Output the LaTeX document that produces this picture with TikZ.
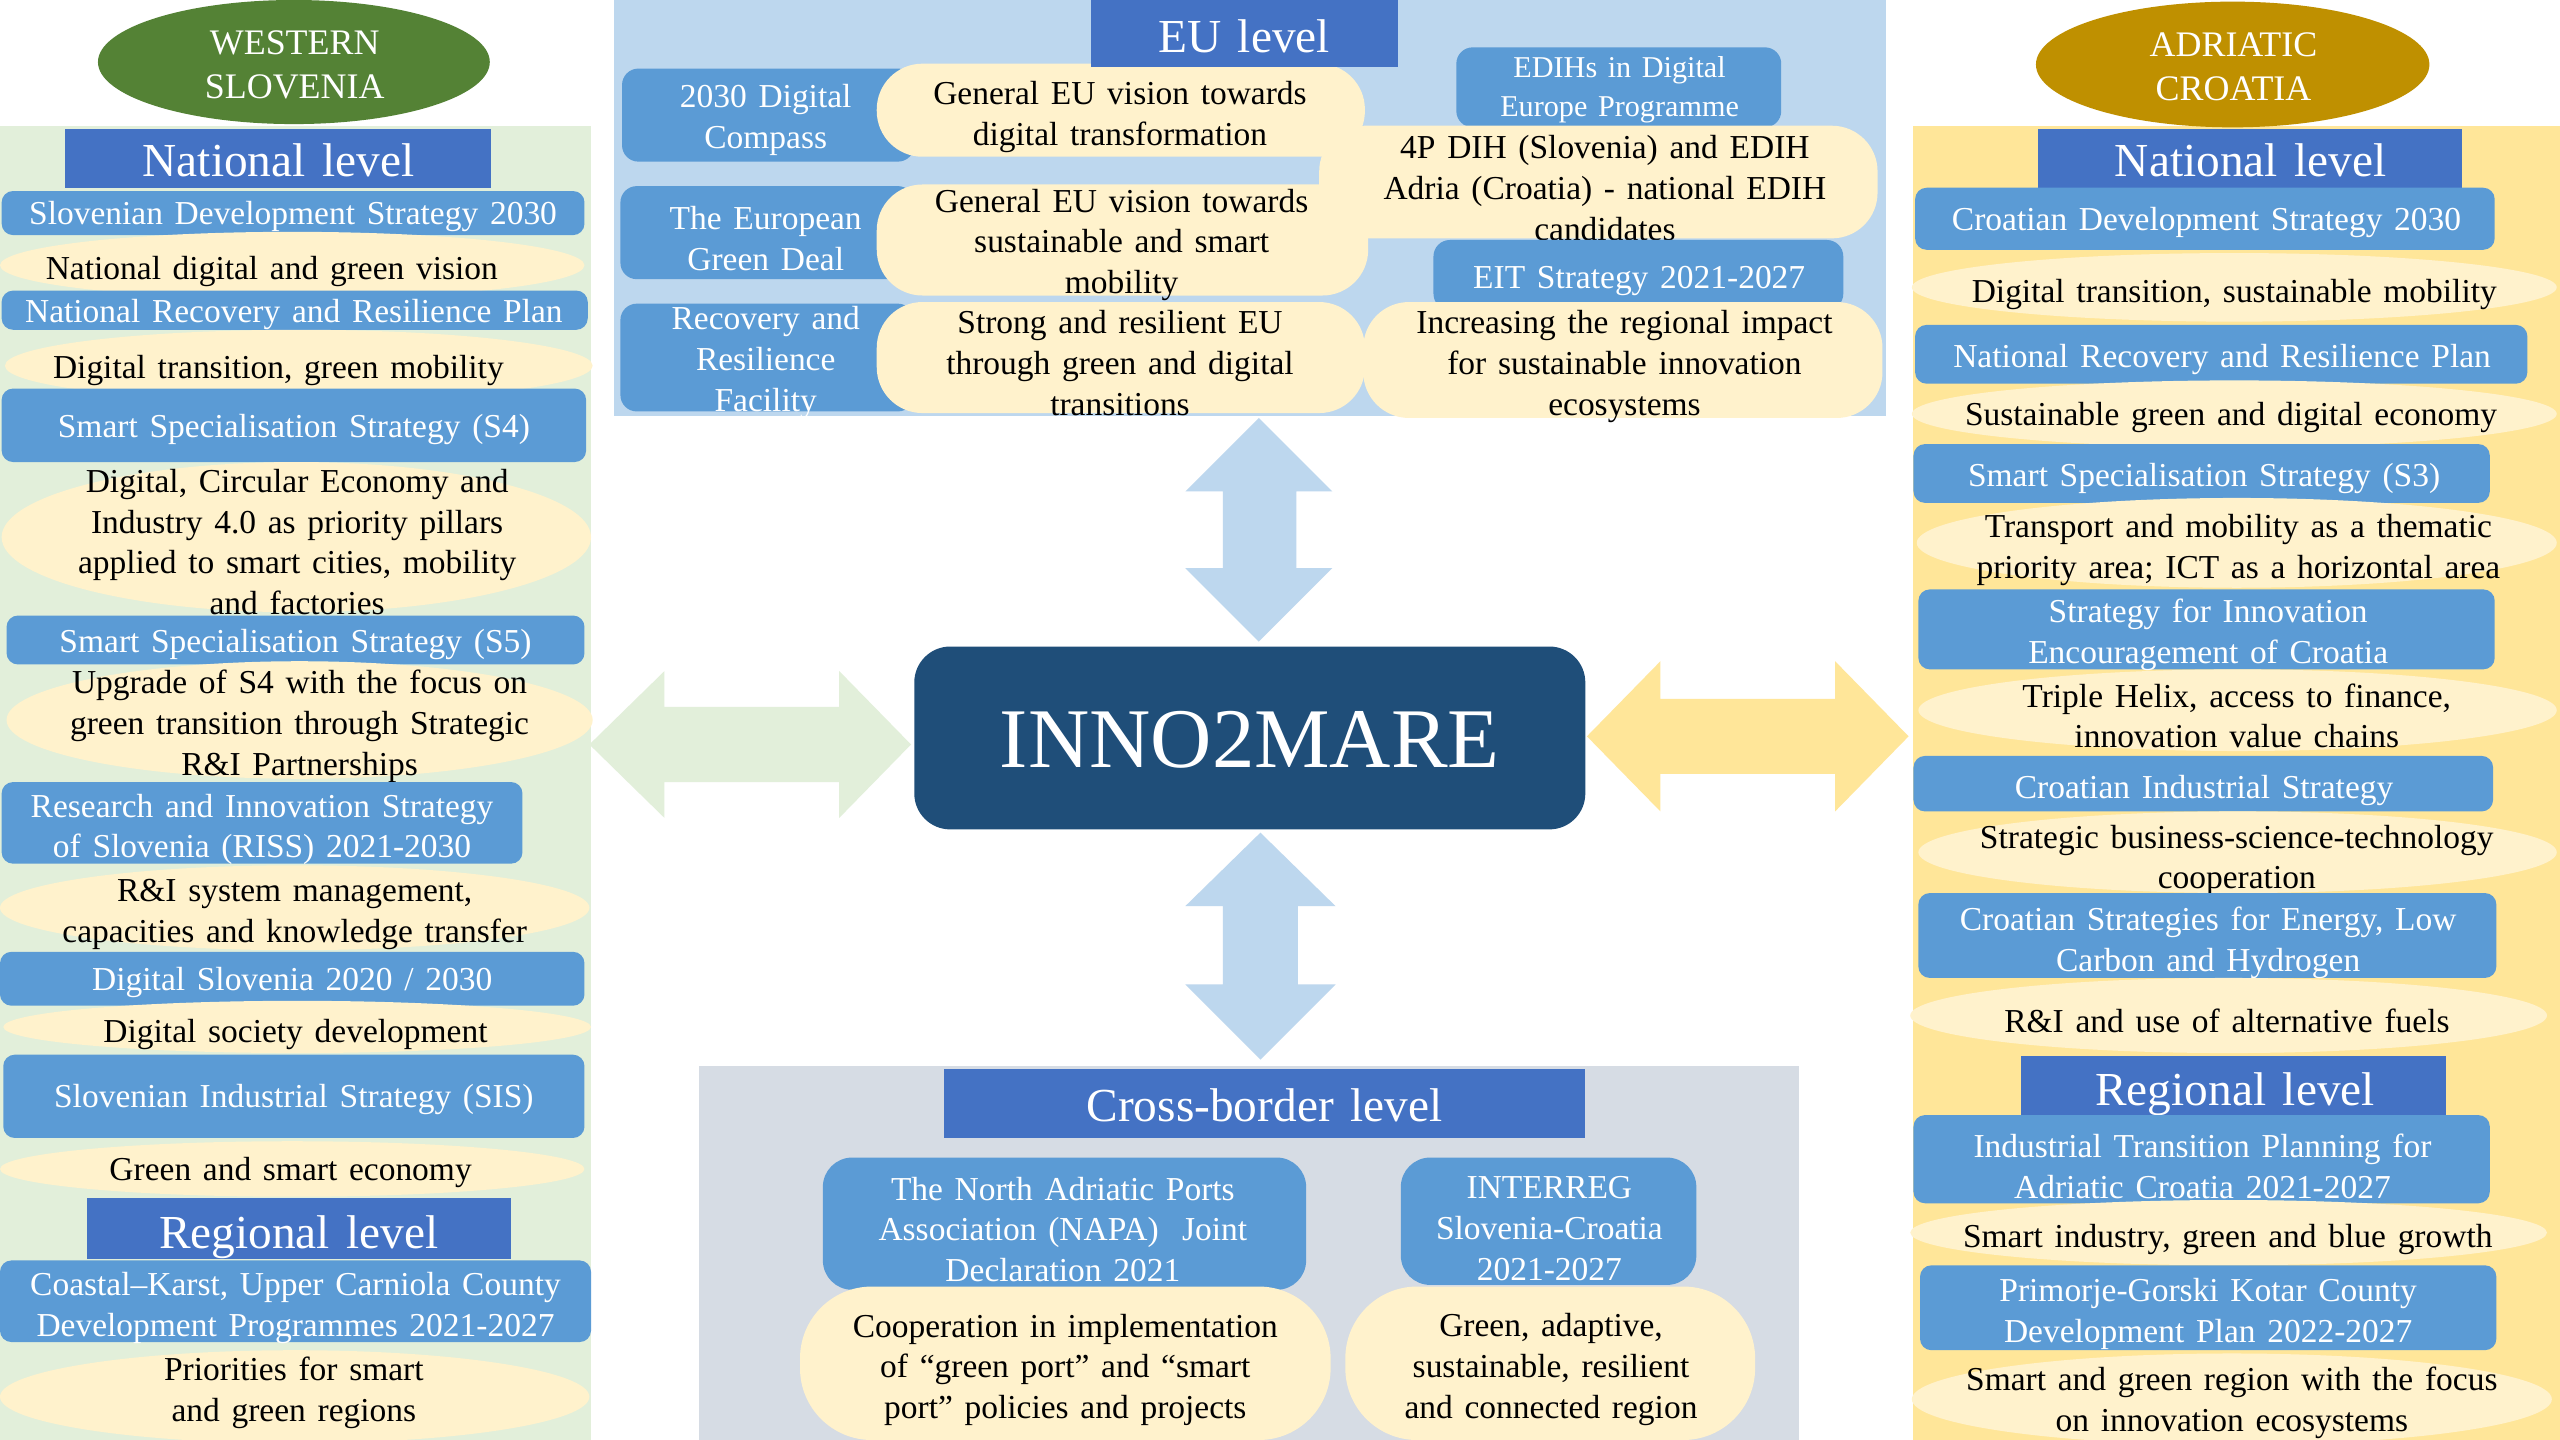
\documentclass[tikz,border=0pt]{standalone}
\usepackage{fontspec}
\setmainfont{Liberation Serif}[WordSpace=1.4]
\usetikzlibrary{shapes.geometric}
\definecolor{pgreen}{HTML}{E2EFDA}
\definecolor{pyellow}{HTML}{FFE699}
\definecolor{peu}{HTML}{BDD7EE}
\definecolor{pcb}{HTML}{D6DCE4}
\definecolor{hdrblue}{HTML}{4472C4}
\definecolor{boxblue}{HTML}{5B9BD5}
\definecolor{cream}{HTML}{FFF2CC}
\definecolor{wsgreen}{HTML}{548235}
\definecolor{acgold}{HTML}{BF9000}
\definecolor{innoblue}{HTML}{1F4E79}
\newcommand\mkshape[9]{%
  \node[#1, minimum width={(#5)-(#3)}, minimum height={(#6)-(#4)}] (#2) at ({((#3)+(#5))/2},{((#4)+(#6))/2}) {};
  \node[#1txt] (#2t) at (#7,#8) {#9};}
\tikzset{
  basetxt/.style={inner sep=0pt, align=center, yshift=-2pt, font=\fontsize{20.5}{25}\selectfont},
  mybx/.style={fill=boxblue, rounded corners=7pt, inner sep=0pt},
  mybxtxt/.style={basetxt, text=white},
  myebx/.style={fill=boxblue, rounded corners=10pt, inner sep=0pt},
  myebxtxt/.style={basetxt, text=white},
  myebxs/.style={fill=boxblue, rounded corners=10pt, inner sep=0pt},
  myebxstxt/.style={inner sep=0pt, align=center, yshift=-1.5pt, text=white, font=\fontsize{18.5}{23.5}\selectfont},
  mycbx/.style={fill=boxblue, rounded corners=18pt, inner sep=0pt},
  mycbxtxt/.style={basetxt, yshift=1pt, text=white},
  myel/.style={ellipse, fill=cream, inner sep=0pt},
  myeltxt/.style={basetxt, text=black},
  myst/.style={fill=cream, rounded corners=28pt, inner sep=0pt},
  mysttxt/.style={basetxt, text=black},
  mystb/.style={fill=cream, rounded corners=44pt, inner sep=0pt},
  mystbtxt/.style={basetxt, yshift=1pt, text=black},
  myhd/.style={fill=hdrblue, inner sep=0pt},
  myhdtxt/.style={inner sep=0pt, text=white, font=\fontsize{29}{33}\selectfont},
  mygel/.style={ellipse, fill=wsgreen, inner sep=0pt},
  mygeltxt/.style={inner sep=0pt, align=center, yshift=-1pt, text=white, font=\fontsize{22}{27}\selectfont},
  myyel/.style={ellipse, fill=acgold, inner sep=0pt},
  myyeltxt/.style={inner sep=0pt, align=center, yshift=-1pt, text=white, font=\fontsize{22}{27}\selectfont},
  myinno/.style={fill=innoblue, rounded corners=22pt, inner sep=0pt},
  myinnotxt/.style={inner sep=0pt, text=white, font=\fontsize{52}{56}\selectfont},
}
\begin{document}
\begin{tikzpicture}[x=1pt,y=-1pt]
\useasboundingbox[fill=white] (0,0) rectangle (1568,882);
% panels
\fill[pgreen] (0,77) rectangle (362,882);
\fill[pyellow] (1172,77) rectangle (1568,882);
\fill[peu] (376,0) rectangle (1155,255);
\fill[pcb] (428,653) rectangle (1102,882);
% block arrows
\fill[peu] (771,256) -- (816,301) -- (794,301) -- (794,348) -- (816,348) -- (771,393) -- (726,348) -- (749,348) -- (749,301) -- (726,301) -- cycle;
\fill[peu] (772,510) -- (818,555) -- (795,555) -- (795,603) -- (818,603) -- (772,649) -- (726,603) -- (749,603) -- (749,555) -- (726,555) -- cycle;
\fill[pgreen] (361,456) -- (407,411) -- (407,433) -- (514,433) -- (514,411) -- (558,456) -- (514,501) -- (514,479) -- (407,479) -- (407,501) -- cycle;
\fill[pyellow] (972,451) -- (1017,405) -- (1017,428) -- (1124,428) -- (1124,405) -- (1169,451) -- (1124,497) -- (1124,474) -- (1017,474) -- (1017,497) -- cycle;
% centre
\mkshape{myinno}{inno}{560}{396}{971}{508}{765.5}{453}{INNO2MARE}
% left column
\mkshape{mygel}{ws}{60}{0}{300}{76}{180.5}{38.7}{WESTERN\\SLOVENIA}
\mkshape{myhd}{wnat}{40}{79}{301}{115}{170.6}{98}{National level}
\mkshape{mybx}{sds}{1}{117}{358}{144}{179.5}{130.5}{Slovenian Development Strategy 2030}
\mkshape{myel}{sdsE}{0}{142}{358}{183}{166.5}{164}{National digital and green vision}
\mkshape{mybx}{snrrp}{1}{178}{360}{202}{180}{190.5}{National Recovery and Resilience Plan}
\mkshape{myel}{snrrpE}{3}{202}{363}{246}{170.5}{225}{Digital transition, green mobility}
\mkshape{mybx}{sfour}{1}{238}{359}{283}{180}{261}{Smart Specialisation Strategy (S4)}
\mkshape{myel}{sfourE}{1}{283}{362}{375}{182}{330}{Digital, Circular Economy and\\Industry 4.0 as priority pillars\\applied to smart cities, mobility\\and factories}
\mkshape{mybx}{sfive}{4}{377}{358}{407}{181}{393}{Smart Specialisation Strategy (S5)}
\mkshape{myel}{sfiveE}{4}{405}{363}{477}{183.5}{443}{Upgrade of S4 with the focus on\\green transition through Strategic\\R\&I Partnerships}
\mkshape{mybx}{riss}{1}{479}{320}{529}{160.5}{506}{Research and Innovation Strategy\\of Slovenia (RISS) 2021-2030}
\mkshape{myel}{rissE}{0}{530}{361}{582}{180.5}{558}{R\&I system management,\\capacities and knowledge transfer}
\mkshape{mybx}{dsl}{0}{583}{358}{616}{179}{600}{Digital Slovenia 2020 / 2030}
\mkshape{myel}{dslE}{2}{613}{362}{645}{181}{631.5}{Digital society development}
\mkshape{mybx}{sis}{2}{646}{358}{697}{180}{671.5}{Slovenian Industrial Strategy (SIS)}
\mkshape{myel}{sisE}{0}{699}{358}{733}{178}{716}{Green and smart economy}
\mkshape{myhd}{wreg}{53}{734}{313}{771}{183}{757.5}{Regional level}
\mkshape{mybx}{ckr}{0}{772}{362}{822}{181}{799}{Coastal--Karst, Upper Carniola County\\Development Programmes 2021-2027}
\mkshape{myel}{ckrE}{0}{827}{361}{884}{180}{851}{Priorities for smart\\and green regions}
% EU level
\mkshape{myebx}{cmp}{381}{42}{560}{99}{469}{71.5}{2030 Digital\\Compass}
\mkshape{myst}{cmpS}{537}{39}{836}{96}{686}{69.5}{General EU vision towards\\digital transformation}
\mkshape{myebx}{gd}{380}{114}{560}{171}{469}{144}{The European\\Green Deal}
\mkshape{myst}{gdS}{537}{113}{838}{181}{687}{148}{General EU vision towards\\sustainable and smart\\mobility}
\mkshape{myebx}{rrf}{380}{186}{560}{252}{469}{220}{Recovery and\\Resilience\\Facility}
\mkshape{myst}{rrfS}{537}{185}{836}{253}{686}{220.5}{Strong and resilient EU\\through green and digital\\transitions}
\mkshape{myebxs}{edih}{892}{29}{1091}{78}{992}{53.5}{EDIHs in Digital\\Europe Programme}
\mkshape{myst}{edihS}{808}{77}{1150}{146}{983}{113}{4P DIH (Slovenia) and EDIH\\Adria (Croatia) - national EDIH\\candidates}
\mkshape{myebx}{eit}{878}{147}{1129}{190}{1004}{170}{EIT Strategy 2021-2027}
\mkshape{myst}{eitS}{835}{185}{1153}{256}{995}{222.5}{Increasing the regional impact\\for sustainable innovation\\ecosystems}
\mkshape{myhd}{euh}{668}{0}{856}{41}{762}{22}{EU level}
% cross-border level
\mkshape{myhd}{cbh}{578}{655}{971}{697}{774.5}{677}{Cross-border level}
\mkshape{mycbx}{napa}{504}{709}{800}{790}{651}{752}{The North Adriatic Ports\\Association (NAPA)\ \ Joint\\Declaration 2021}
\mkshape{mycbx}{intr}{858}{709}{1039}{787}{949}{751.5}{INTERREG\\Slovenia-Croatia\\2021-2027}
\mkshape{mystb}{napaS}{490}{788}{815}{882}{652.5}{838}{Cooperation in implementation\\of “green port” and “smart\\port” policies and projects}
\mkshape{mystb}{intrS}{824}{788}{1075}{882}{950}{838}{Green, adaptive,\\sustainable, resilient\\and connected region}
% right column
\mkshape{myyel}{ac}{1247}{1}{1488}{78}{1368}{40}{ADRIATIC\\CROATIA}
\mkshape{myhd}{cnat}{1248}{79}{1508}{115}{1378.5}{98}{National level}
\mkshape{mybx}{cds}{1173}{115}{1528}{153}{1351.5}{134}{Croatian Development Strategy 2030}
\mkshape{myel}{cdsE}{1171}{155}{1566}{197}{1368.5}{178.5}{Digital transition, sustainable mobility}
\mkshape{mybx}{cnrrp}{1173}{199}{1548}{235}{1361}{218}{National Recovery and Resilience Plan}
\mkshape{myel}{cnrrpE}{1171}{233}{1566}{274}{1366.5}{254}{Sustainable green and digital economy}
\mkshape{mybx}{sthree}{1172}{272}{1525}{308}{1350}{291}{Smart Specialisation Strategy (S3)}
\mkshape{myel}{sthreeE}{1174}{305}{1566}{360}{1371}{335}{Transport and mobility as a thematic\\priority area; ICT as a horizontal area}
\mkshape{mybx}{sie}{1175}{361}{1528}{410}{1352.5}{387}{Strategy for Innovation\\Encouragement of Croatia}
\mkshape{myel}{sieE}{1175}{410}{1566}{460}{1370}{436.5}{Triple Helix, access to finance,\\innovation value chains}
\mkshape{mybx}{cis}{1172}{463}{1527}{497}{1350}{482}{Croatian Industrial Strategy}
\mkshape{myel}{cisE}{1175}{497}{1566}{547}{1370}{525}{Strategic business-science-technology\\cooperation}
\mkshape{mybx}{eng}{1175}{547}{1529}{599}{1352.5}{575.5}{Croatian Strategies for Energy, Low\\Carbon and Hydrogen}
\mkshape{myel}{engE}{1170}{599}{1560}{645}{1364}{623}{R\&I and use of alternative fuels}
\mkshape{myhd}{creg}{1238}{647}{1498}{683}{1369}{670}{Regional level}
\mkshape{mybx}{itp}{1172}{683}{1525}{737}{1349}{712.5}{Industrial Transition Planning for\\Adriatic Croatia 2021-2027}
\mkshape{myel}{itpE}{1170}{735}{1560}{775}{1364.5}{757}{Smart industry, green and blue growth}
\mkshape{mybx}{pgk}{1176}{775}{1529}{827}{1352.5}{803}{Primorje-Gorski Kotar County\\Development Plan 2022-2027}
\mkshape{myel}{pgkE}{1171}{829}{1563}{885}{1367}{857}{Smart and green region with the focus\\on innovation ecosystems}
\end{tikzpicture}
\end{document}
